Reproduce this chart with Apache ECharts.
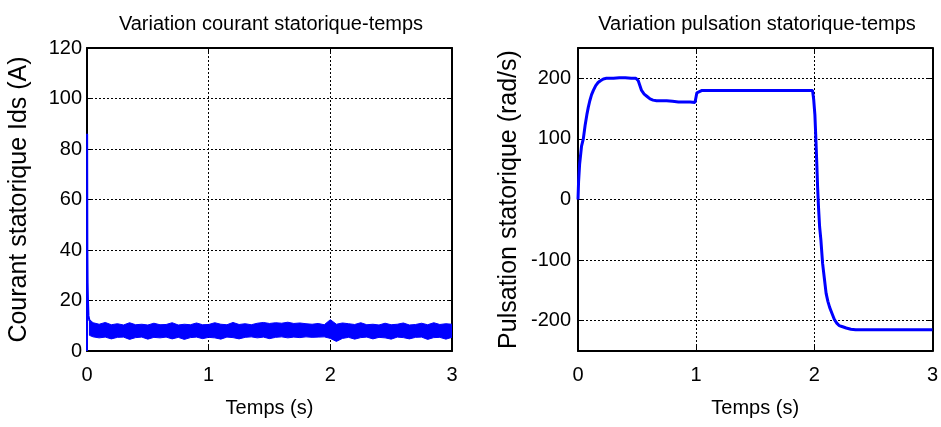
<!DOCTYPE html>
<html>
<head>
<meta charset="utf-8">
<script src="https://cdn.jsdelivr.net/npm/echarts@6/dist/echarts.min.js"></script>
<style>
html,body{margin:0;padding:0;background:#fff;}
#c{width:941px;height:427px;}
</style>
</head>
<body>
<div id="c"></div>
<script>
// ---------- Data ----------
const leftTitle = 'Variation courant statorique-temps';
const rightTitle = 'Variation pulsation statorique-temps';
const xName = 'Temps (s)';
const leftYName = 'Courant statorique Ids (A)';
const rightYName = 'Pulsation statorique (rad/s)';
const xTicks = [0, 1, 2, 3];
const leftYTicks = [0, 20, 40, 60, 80, 100, 120];
const rightYTicks = [-200, -100, 0, 100, 200];

// Ids start-up transient
const idsStartT = [0, 0.0005, 0.001, 0.003, 0.005, 0.008, 0.012, 0.02];
const idsStartV = [0, 60, 86, 40, 27, 20, 14, 12];

// Ids steady ripple band (upper / lower envelope)
const idsBandT = [0.02,0.05,0.10,0.15,0.20,0.25,0.30,0.35,0.40,0.45,0.50,0.55,0.60,0.65,0.70,0.75,0.80,0.85,0.90,0.95,
  1.00,1.05,1.10,1.15,1.20,1.25,1.30,1.35,1.40,1.45,1.50,1.55,1.60,1.65,1.70,1.75,1.80,1.85,1.90,1.95,
  2.00,2.05,2.10,2.15,2.20,2.25,2.30,2.35,2.40,2.45,2.50,2.55,2.60,2.65,2.70,2.75,2.80,2.85,2.90,2.95,3.00];
const idsUpper = [12.5,11.2,10.6,11.3,10.4,10.8,10.3,11.2,10.4,10.6,10.3,11.0,10.4,10.5,11.2,10.3,10.6,10.4,11.1,10.4,
  10.5,11.2,10.6,10.4,11.3,10.5,10.8,10.4,11.0,11.3,10.9,11.2,11.0,11.4,10.9,11.1,10.8,10.6,10.9,10.4,
  12.4,10.6,11.1,10.8,10.5,11.2,10.4,10.6,10.3,11.0,10.4,10.6,11.1,10.3,10.5,11.0,10.4,11.2,10.5,10.8,10.6];
const idsLower = [6.2,5.6,5.2,5.5,4.8,5.4,5.5,4.6,5.3,5.5,4.7,5.4,5.2,5.5,4.8,5.4,4.6,5.3,5.5,4.9,
  5.4,5.2,4.7,5.5,5.3,4.8,5.4,5.6,5.2,5.5,4.9,5.4,5.6,5.2,5.5,5.3,5.6,5.4,5.5,5.6,
  5.0,3.8,5.0,5.4,4.7,5.3,5.5,4.8,5.4,5.2,4.7,5.5,5.3,4.8,5.4,5.5,4.6,5.3,5.4,4.7,5.4];

// Stator pulsation
const wT = [0,0.005,0.014,0.03,0.045,0.06,0.075,0.087,0.1,0.115,0.13,0.15,0.17,0.19,0.215,0.24,0.30,0.35,0.40,0.45,0.49,
  0.51,0.538,0.56,0.585,0.61,0.635,0.665,0.70,0.75,0.80,0.85,0.90,0.95,0.99,1.0,1.006,1.02,1.05,1.10,1.50,1.80,1.985,
  1.995,2.005,2.014,2.022,2.028,2.035,2.045,2.056,2.07,2.085,2.1,2.115,2.13,2.15,2.17,2.19,2.21,2.24,2.27,2.31,2.35,2.5,2.8,3.0];
const wV = [0,30,59,88,100,122,140,152,163,173,180,188,193,196,199,200,200,201,201,200,200,
  196,180,174,170,166,164,163,163,163,162,161,161,161,160,170,176,179,180,180,180,180,180,
  165,140,97,55,21,-10,-45,-67,-105,-130,-155,-168,-178,-188,-198,-204,-208,-210,-212,-214,-215,-215,-215,-215];

// ---------- Build ----------
const FONT = 'Liberation Sans, Arial, sans-serif';
const pairs = (xs, ys) => xs.map((x, i) => [x, ys[i]]);
const upperEdge = pairs(idsBandT, idsUpper);
const lowerEdge = pairs(idsBandT, idsLower);

const dotted = {show: true, lineStyle: {color: '#000', width: 1, type: [2, 2]}};
const axLine = {show: true, onZero: false, lineStyle: {color: '#000', width: 2}};
const tickStyle = {show: true, inside: true, length: 5, lineStyle: {color: '#000', width: 1}};

function xMain(gi) {
  return {type: 'value', gridIndex: gi, min: 0, max: 3, interval: 1, position: 'bottom',
    name: xName, nameLocation: 'middle', nameGap: 47,
    nameTextStyle: {fontFamily: FONT, fontSize: 20, color: '#000'},
    axisLine: axLine, axisTick: tickStyle,
    axisLabel: {fontFamily: FONT, fontSize: 20, color: '#000', margin: 14},
    splitLine: dotted};
}
function xTop(gi) {
  return {type: 'value', gridIndex: gi, min: 0, max: 3, interval: 1, position: 'top',
    axisLine: axLine, axisTick: tickStyle,
    axisLabel: {show: false}, splitLine: {show: false}};
}

const option = {
  backgroundColor: '#fff',
  animation: false,
  title: [
    {text: leftTitle, left: 266, top: 9, textAlign: 'center',
      textStyle: {fontFamily: FONT, fontSize: 20, fontWeight: 'normal', color: '#000'}},
    {text: rightTitle, left: 752, top: 9, textAlign: 'center',
      textStyle: {fontFamily: FONT, fontSize: 20, fontWeight: 'normal', color: '#000'}}
  ],
  grid: [
    {left: 87, right: 489, top: 48, bottom: 76},
    {left: 578, right: 8, top: 48, bottom: 76}
  ],
  xAxis: [xMain(0), xTop(0), xMain(1), xTop(1)],
  yAxis: [
    {type: 'value', gridIndex: 0, min: 0, max: 120, interval: 20, position: 'left',
      name: leftYName, nameLocation: 'middle', nameGap: 55,
      nameTextStyle: {fontFamily: FONT, fontSize: 25, color: '#000'},
      axisLine: axLine, axisTick: tickStyle,
      axisLabel: {fontFamily: FONT, fontSize: 20, color: '#000', margin: 5},
      splitLine: dotted},
    {type: 'value', gridIndex: 0, min: 0, max: 120, interval: 20, position: 'right',
      axisLine: axLine, axisTick: tickStyle,
      axisLabel: {show: false}, splitLine: {show: false}},
    {type: 'value', gridIndex: 1, min: -250, max: 250, position: 'left',
      name: rightYName, nameLocation: 'middle', nameGap: 56,
      nameTextStyle: {fontFamily: FONT, fontSize: 25, color: '#000'},
      axisLine: axLine,
      axisTick: Object.assign({}, tickStyle, {customValues: rightYTicks}),
      axisLabel: {fontFamily: FONT, fontSize: 20, color: '#000', margin: 7, customValues: rightYTicks},
      splitLine: dotted},
    {type: 'value', gridIndex: 1, min: -250, max: 250, position: 'right',
      axisLine: axLine,
      axisTick: Object.assign({}, tickStyle, {customValues: rightYTicks}),
      axisLabel: {show: false}, splitLine: {show: false}}
  ],
  series: [
    {type: 'custom', name: 'band', xAxisIndex: 0, yAxisIndex: 0, coordinateSystem: 'cartesian2d',
      data: upperEdge, clip: true, z: 3,
      renderItem: function (params, api) {
        if (params.dataIndex !== 0) return null;
        const pts = [];
        upperEdge.forEach(p => pts.push(api.coord(p)));
        for (let i = lowerEdge.length - 1; i >= 0; i--) pts.push(api.coord(lowerEdge[i]));
        return {type: 'polygon', shape: {points: pts},
          style: {fill: '#0000ff', stroke: '#0000ff', lineWidth: 1}};
      }},
    {type: 'line', name: 'start', xAxisIndex: 0, yAxisIndex: 0, data: pairs(idsStartT, idsStartV),
      showSymbol: false, symbol: 'none', lineStyle: {color: '#0000ff', width: 2}, z: 4},
    {type: 'line', name: 'w', xAxisIndex: 2, yAxisIndex: 2, data: pairs(wT, wV),
      showSymbol: false, symbol: 'none', lineStyle: {color: '#0000ff', width: 3}, z: 4}
  ]
};

const chart = echarts.init(document.getElementById('c'), null, {renderer: 'canvas'});
chart.setOption(option);
</script>
</body>
</html>
